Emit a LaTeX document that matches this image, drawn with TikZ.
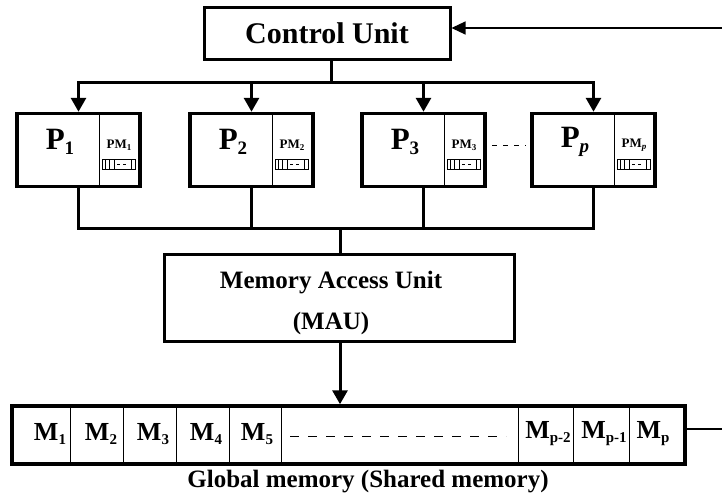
\documentclass[tikz,border=0pt]{standalone}
\usepackage{fontspec}
\setmainfont{Liberation Serif}
\usetikzlibrary{arrows.meta}
\newcommand\fsz[1]{\fontsize{#1}{#1}\selectfont\bfseries}
\newcommand\psub[1]{\raisebox{-5pt}{\fsz{19}#1}}
\newcommand\pmsub[1]{\raisebox{-2pt}{\fsz{9}#1}}
\newcommand\msub[1]{\raisebox{-4pt}{\fsz{15}#1}}
\begin{document}
\begin{tikzpicture}[x=1pt,y=-1pt,
  unitbox/.style={draw, line width=3.5pt, inner sep=0pt},
  pbox/.style={unitbox, minimum width=123pt, minimum height=73pt},
  thinline/.style={line width=0.9pt},
  bus/.style={line width=3pt},
  down/.style={bus, -{Triangle[length=14pt,width=15pt]}},
  inarrow/.style={line width=1.2pt, -{Triangle[length=14pt,width=13pt]}},
  ptext/.style={font=\fsz{31}, inner sep=0pt},
  pmtext/.style={font=\fsz{13}, inner sep=0pt},
  mtext/.style={font=\fsz{26}, inner sep=0pt}]
\useasboundingbox (0,0) rectangle (722,498);

% control unit and its feedback input
\node[unitbox, line width=3pt, minimum width=246pt, minimum height=52pt, font=\fsz{30}] (cu) at (327,33) {Control Unit};
\coordinate (cin) at (722,28);
\draw[inarrow] (cin) -- (cin -| cu.east);

% processors with their local memories
\foreach \n/\x/\s in {1/17/1, 2/190/2, 3/362/3, p/532/{\itshape p}} {
  \node[pbox] (p\n) at (\x+61.5,150) {};
  \draw[thinline] (\x+82,114) -- (\x+82,186);
  \node[ptext] (pl\n) at (\x+43,142) {P\psub{\s}};
  \node[pmtext] (pm\n) at (\x+102,145) {PM\pmsub{\s}};
  \draw[thinline] (\x+85,159) rectangle (\x+118,169);
  \foreach \d in {88,92,97,114} \draw[thinline] (\x+\d,159) -- (\x+\d,169);
  \draw[thinline] (\x+100,164) -- (\x+103,164) (\x+106,164) -- (\x+109,164);
}
\draw[thinline, dash pattern=on 5pt off 6pt] (492,145) -- (526,145);

% broadcast bus from the control unit
\coordinate (topbus) at (331,82);
\draw[bus] (cu.south -| topbus) -- (topbus);
\draw[bus, line cap=rect] (p1.north |- topbus) -- (pp.north |- topbus);
\foreach \n in {1,2,3,p} \draw[down] (p\n.north |- topbus) -- (p\n.north);

% memory access unit
\node[unitbox, line width=3pt, minimum width=350pt, minimum height=87pt] (mau) at (339,297.5) {};
\node[font=\fsz{25}, align=center, inner sep=0pt] (maulabel) at (331,303)
  {Memory Access Unit\\[16pt](MAU)};
\coordinate (botbus) at (340,228);
\foreach \n in {1,2,3,p} \draw[bus] (p\n.south) -- (p\n.south |- botbus);
\draw[bus, line cap=rect] (p1.south |- botbus) -- (pp.south |- botbus);
\draw[bus] (botbus) -- (mau.north -| botbus);

% global shared memory
\node[unitbox, line width=3.5pt, minimum width=673pt, minimum height=58pt] (mem) at (348.5,435) {};
\draw[down] (mau.south -| botbus) -- (mem.north -| botbus);
\foreach \d in {70,123,176,229,281,518,573,629} \draw[thinline] (\d,406) -- (\d,464);
\foreach \x/\s/\k in {50/1/1,101/2/2,153/3/3,206/4/4,257/5/5,548/p-2/pm2,604/p-1/pm1,653/p/p}
  \node[mtext] (m\k) at (\x,434) {M\msub{\s}};
\draw[thinline, dash pattern=on 9pt off 9pt] (290,436) -- (506,436);
\coordinate (mout) at (722,429);
\draw[line width=1.2pt] (mout -| mem.east) -- (mout);
\node[font=\fsz{25}, inner sep=0pt] (gm) at (368,482) {Global memory (Shared memory)};
\end{tikzpicture}
\end{document}
